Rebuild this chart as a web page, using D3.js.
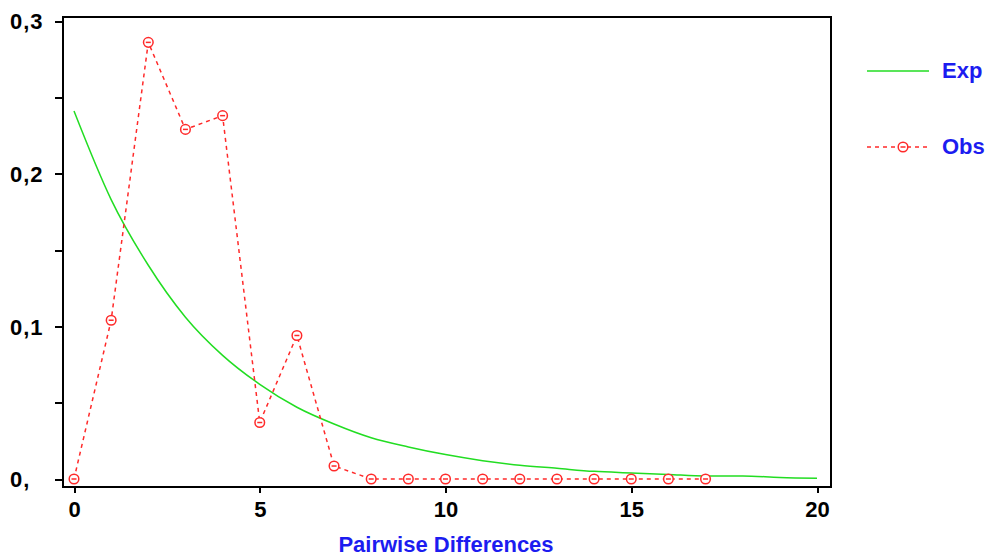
<!DOCTYPE html>
<html>
<head>
<meta charset="utf-8">
<script src="https://cdn.jsdelivr.net/npm/d3@7"></script>
<style>
  body { margin: 0; background: #fff; }
  svg { display: block; }
  text { font-family: "Liberation Sans", Arial, sans-serif; font-weight: bold; }
</style>
</head>
<body>
<svg id="chart" width="989" height="556"></svg>
<script>
// pairwise differences 0..20
let expX = [0, 1, 2, 3, 4, 5, 6, 7, 8, 9, 10, 11, 12, 13, 14, 15, 16, 17, 18, 19, 20];
let expY = [0.241, 0.183, 0.140, 0.106, 0.081, 0.062, 0.047, 0.036, 0.027, 0.021, 0.016,
            0.012, 0.009, 0.007, 0.005, 0.004, 0.003, 0.002, 0.002, 0.001, 0.0005];
let obsX = [0, 1, 2, 3, 4, 5, 6, 7, 8, 9, 10, 11, 12, 13, 14, 15, 16, 17];
let obsY = [0.0, 0.104, 0.286, 0.229, 0.238, 0.037, 0.094, 0.0085, 0, 0, 0, 0, 0, 0, 0, 0, 0, 0];
let xTicks = [0, 5, 10, 15, 20];
let yTicks = [0, 0.05, 0.1, 0.15, 0.2, 0.25, 0.3];
let yLabels = { "0": "0,", "0.1": "0,1", "0.2": "0,2", "0.3": "0,3" };
let seriesNames = ["Exp", "Obs"];

let Chart = {
    frame: { left: 63, top: 17, right: 831, bottom: 487 },
    colors: { exp: "#22dd22", obs: "#ff2a2a", text: "#1c1cf0" },
    svg: null,
    x: null,
    y: null,
    render: function () {
        Chart.svg = d3.select("#chart");
        Chart.x = d3.scaleLinear().domain([0, 20]).range([74, 817]);
        Chart.y = d3.scaleLinear().domain([0, 0.3]).range([479, 21]);

        Chart.drawAxes();
        Chart.drawSeries();
        Chart.drawLegend();
    },
    drawAxes: function () {
        let f = Chart.frame;
        Chart.svg.append("rect")
            .attr("x", f.left)
            .attr("y", f.top)
            .attr("width", f.right - f.left)
            .attr("height", f.bottom - f.top)
            .attr("fill", "none")
            .attr("stroke", "#000")
            .attr("stroke-width", 2)
            .attr("shape-rendering", "crispEdges");

        let yAxis = Chart.svg.append("g")
            .attr("transform", "translate(" + f.left + ",0)")
            .call(d3.axisLeft(Chart.y)
                .tickValues(yTicks)
                .tickSize(8)
                .tickFormat(function (d) { return yLabels[String(+d.toFixed(2))] || ""; }));
        yAxis.select(".domain").remove();
        yAxis.selectAll(".tick line").attr("stroke", "#000").attr("stroke-width", 2)
            .attr("shape-rendering", "crispEdges");
        yAxis.selectAll(".tick text")
            .attr("x", 10 - f.left)
            .attr("dy", "0.35em")
            .attr("text-anchor", "start")
            .attr("fill", "#000")
            .style("font-size", "22px")
            .style("letter-spacing", "1px")
            .style("font-family", "Liberation Sans, Arial, sans-serif")
            .style("font-weight", "bold");

        let xAxis = Chart.svg.append("g")
            .attr("transform", "translate(0," + f.bottom + ")")
            .call(d3.axisBottom(Chart.x).tickValues(xTicks).tickSize(6).tickFormat(d3.format("d")));
        xAxis.select(".domain").remove();
        xAxis.selectAll(".tick line").attr("stroke", "#000").attr("stroke-width", 2)
            .attr("shape-rendering", "crispEdges");
        xAxis.selectAll(".tick text")
            .attr("y", 22)
            .attr("dy", "0.35em")
            .attr("fill", "#000")
            .style("font-size", "22px")
            .style("font-family", "Liberation Sans, Arial, sans-serif")
            .style("font-weight", "bold");

        Chart.svg.append("text")
            .attr("x", 446)
            .attr("y", 544)
            .attr("dy", "0.35em")
            .attr("text-anchor", "middle")
            .attr("fill", Chart.colors.text)
            .style("font-size", "22px")
            .text("Pairwise Differences");
    },
    drawSeries: function () {
        let expLine = d3.line()
            .x(function (d, i) { return Chart.x(expX[i]); })
            .y(function (d) { return Chart.y(d); })
            .curve(d3.curveMonotoneX);
        Chart.svg.append("path")
            .attr("d", expLine(expY))
            .attr("fill", "none")
            .attr("stroke", Chart.colors.exp)
            .attr("stroke-width", 1.5);

        let obsLine = d3.line()
            .x(function (d, i) { return Chart.x(obsX[i]); })
            .y(function (d) { return Chart.y(d); });
        Chart.svg.append("path")
            .attr("d", obsLine(obsY))
            .attr("fill", "none")
            .attr("stroke", Chart.colors.obs)
            .attr("stroke-width", 1.5)
            .attr("stroke-dasharray", "4,4");

        let marks = Chart.svg.append("g").selectAll("g")
            .data(obsY)
            .enter()
            .append("g")
            .attr("transform", function (d, i) {
                return "translate(" + Chart.x(obsX[i]) + "," + Chart.y(d) + ")";
            });
        Chart.drawMarker(marks);
    },
    drawMarker: function (sel) {
        sel.append("circle")
            .attr("r", 4.8)
            .attr("fill", "#fff")
            .attr("stroke", Chart.colors.obs)
            .attr("stroke-width", 1.5);
        sel.append("line")
            .attr("x1", -2.5).attr("x2", 2.5)
            .attr("y1", 0).attr("y2", 0)
            .attr("stroke", Chart.colors.obs)
            .attr("stroke-width", 1.5);
    },
    drawLegend: function () {
        let lg = Chart.svg.append("g");
        lg.append("line")
            .attr("x1", 867).attr("x2", 929)
            .attr("y1", 71).attr("y2", 71)
            .attr("stroke", Chart.colors.exp)
            .attr("stroke-width", 1.5);
        lg.append("line")
            .attr("x1", 867).attr("x2", 929)
            .attr("y1", 147).attr("y2", 147)
            .attr("stroke", Chart.colors.obs)
            .attr("stroke-width", 1.5)
            .attr("stroke-dasharray", "4,4");
        Chart.drawMarker(lg.append("g").attr("transform", "translate(903,147)"));

        lg.selectAll("text.lbl")
            .data(seriesNames)
            .enter()
            .append("text")
            .attr("class", "lbl")
            .attr("x", 942)
            .attr("y", function (d, i) { return i === 0 ? 70 : 146; })
            .attr("dy", "0.35em")
            .attr("fill", Chart.colors.text)
            .style("font-size", "22px")
            .text(function (d) { return d; });
    }
};

Chart.render();
</script>
</body>
</html>
